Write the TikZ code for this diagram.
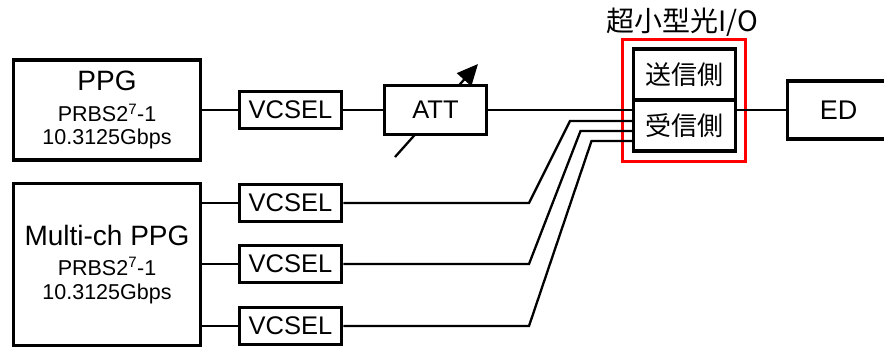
\documentclass[tikz,border=0pt]{standalone}
\usepackage{fontspec}
\setmainfont{Liberation Sans}
\newfontfamily\cjk{Noto Sans CJK JP}
\usetikzlibrary{arrows.meta}
\newcommand{\bigtxt}{\fontsize{28}{32}\selectfont}
\newcommand{\smalltxt}{\fontsize{21.5}{23}\selectfont}
\begin{document}
\begin{tikzpicture}[x=1pt, y=-1pt,
  blk/.style={draw, line width=3.5pt, fill=white, inner sep=0pt, align=center},
  vcsel/.style={blk, minimum width=102pt, minimum height=37pt, font=\fontsize{25.5}{28}\selectfont},
  half/.style={blk, minimum width=102pt, minimum height=51pt, font=\cjk\fontsize{26}{28}\selectfont},
  wire/.style={line width=2.3pt}]
\useasboundingbox (0,0) rectangle (884,349);

% signal sources
\node[blk, minimum width=187pt, minimum height=100pt, font=\smalltxt] (ppg) at (107,110)
  {{\bigtxt PPG}\\[8pt]PRBS2\textsuperscript{7}-1\\10.3125Gbps};
\node[blk, minimum width=187pt, minimum height=162pt, font=\smalltxt] (mppg) at (107,264.5)
  {{\bigtxt Multi-ch PPG}\\[7pt]PRBS2\textsuperscript{7}-1\\[1pt]10.3125Gbps};

\node[vcsel] (vc1) at (290.5,110) {VCSEL};
\node[vcsel] (vc2) at (290.5,203) {VCSEL};
\node[vcsel] (vc3) at (290.5,264) {VCSEL};
\node[vcsel] (vc4) at (290.5,326) {VCSEL};

% variable attenuator
\draw[wire, -{Triangle[length=21pt,width=19pt]}] (395,157) -- (478,64);
\node[blk, minimum width=102pt, minimum height=49pt, font=\fontsize{25.5}{28}\selectfont] (att) at (435.5,110) {ATT};

% optical I/O module
\node[draw=red, line width=3.5pt, minimum width=123pt, minimum height=122pt] (io) at (684,100.5) {};
\node[font=\cjk\fontsize{28}{30}\selectfont] (iotitle) at (682,22) {超小型光I/O};
\node[half] (tx) at (684.5,74.5) {送信側};
\node[half] (rx) at (684.5,125.5) {受信側};

\node[blk, minimum width=102pt, minimum height=58pt, font=\fontsize{27}{30}\selectfont] (ed) at (838.5,110) {ED};

% connections
\draw[wire] (ppg) -- (vc1);
\draw[wire] (vc1) -- (att);
\draw[wire] (att.east) -- (att.east -| rx.west);
\draw[wire] (ed.west -| rx.east) -- (ed.west);
\foreach \n in {2,3,4}
  \draw[wire] (vc\n.west -| mppg.east) -- (vc\n.west);
\foreach \n/\cx/\dy in {2/570/4.5, 3/580.5/-5.5, 4/591.5/-15.5}
  \draw[wire] (vc\n.east) -- (vc\n.east -| 529,0) -- ([yshift=\dy pt]rx.west -| \cx,0) -- ([yshift=\dy pt]rx.west);
\end{tikzpicture}
\end{document}
